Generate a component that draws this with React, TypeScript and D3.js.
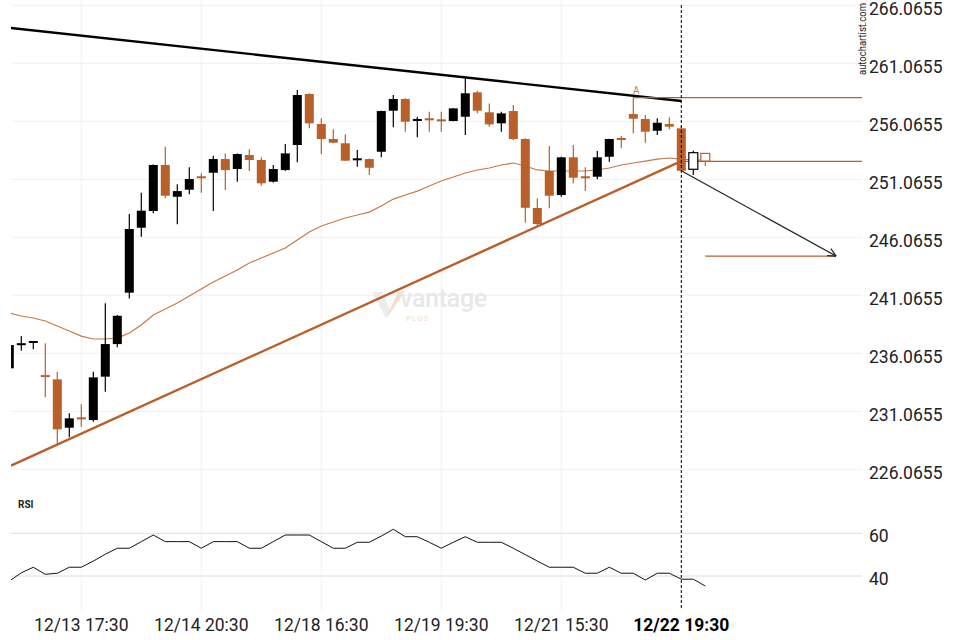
import React, { useEffect } from "react";
import { scaleLinear, line } from "d3";

// candle data, one entry per 30-min bar
const opens = [234.77, 236.8, 236.98, 234.15, 233.82, 229.65, 230.5, 230.31, 234.05, 236.86, 241.29, 246.89, 248.33, 252.3, 249.56, 250.17, 251.27, 251.63, 252.81, 251.95, 253.16, 252.73, 250.86, 251.86, 254.02, 258.42, 255.83, 254.54, 254.17, 252.76, 252.81, 253.44, 256.98, 257.99, 256.15, 256.27, 256.18, 256.09, 256.46, 258.56, 256.84, 255.89, 256.95, 254.54, 248.59, 251.78, 249.71, 252.96, 251.27, 251.29, 253.01, 254.57, 256.69, 256.26, 255.25, 255.83, 255.46, 251.93, 253.3];
const highs = [236.9, 237.55, 237.12, 236.93, 234.48, 230.89, 231.67, 234.48, 240.37, 239.36, 248.07, 249.91, 252.35, 253.87, 250.63, 252.1, 251.58, 253.1, 253.3, 253.3, 253.65, 252.96, 252.3, 254.11, 258.76, 258.48, 256.32, 255.37, 254.94, 253.59, 252.85, 256.98, 258.33, 258.05, 256.46, 256.89, 256.89, 257.2, 259.77, 258.7, 257.61, 256.89, 257.47, 254.6, 249.43, 253.93, 253.0, 254.02, 252.1, 253.5, 254.56, 254.8, 258.11, 256.61, 256.32, 256.41, 255.66, 253.53, 253.32];
const lows = [234.6, 236.29, 236.41, 232.27, 228.24, 228.82, 229.74, 230.17, 232.75, 236.58, 240.8, 246.11, 248.13, 249.43, 247.18, 249.77, 249.91, 248.33, 250.14, 250.86, 251.78, 250.51, 250.8, 251.8, 252.53, 255.46, 253.22, 254.2, 252.65, 252.15, 251.43, 252.96, 255.55, 255.17, 254.68, 255.17, 255.17, 256.07, 254.88, 256.75, 255.6, 255.17, 254.45, 247.32, 246.98, 248.56, 249.56, 250.72, 250.05, 251.07, 252.58, 253.74, 255.03, 254.22, 254.88, 255.37, 251.8, 251.43, 252.21];
const closes = [236.78, 236.9, 237.1, 234.05, 229.51, 230.46, 230.42, 233.99, 236.86, 239.3, 246.78, 248.36, 252.3, 249.65, 250.05, 251.09, 251.21, 252.81, 251.86, 253.24, 252.73, 250.72, 251.95, 253.3, 258.33, 255.89, 254.54, 254.22, 252.67, 252.82, 252.06, 256.95, 257.99, 256.03, 256.21, 256.21, 256.12, 257.18, 258.48, 256.98, 255.8, 256.75, 254.54, 248.61, 247.21, 249.65, 252.96, 251.2, 251.21, 252.96, 254.54, 254.51, 256.29, 255.17, 255.94, 255.6, 251.8, 253.36, 252.64];
// last two bars are projected, drawn hollow
const projectedFrom = 57;

const movingAvg = [239.54, 239.28, 239.11, 238.85, 238.42, 237.99, 237.55, 237.3, 237.3, 237.38, 237.81, 238.5, 239.36, 239.88, 240.4, 241.0, 241.61, 242.21, 242.73, 243.24, 243.85, 244.28, 244.71, 245.14, 245.83, 246.52, 247.04, 247.38, 247.73, 247.99, 248.24, 248.76, 249.36, 249.71, 250.05, 250.49, 250.92, 251.26, 251.61, 251.87, 252.04, 252.3, 252.47, 252.21, 251.87, 251.78, 251.78, 251.78, 251.78, 251.87, 252.04, 252.3, 252.47, 252.64, 252.81, 252.9, 252.81, 252.73, 252.73];

const rsi = [37.6, 41.5, 44.1, 40.8, 41.3, 44.1, 44.1, 47.0, 50.2, 53.0, 53.0, 56.1, 59.2, 56.1, 56.1, 56.1, 53.0, 56.1, 56.1, 56.1, 53.0, 53.0, 56.1, 59.2, 59.2, 59.2, 56.1, 53.0, 53.0, 55.8, 55.8, 58.7, 61.9, 58.4, 58.4, 55.8, 53.0, 55.8, 58.4, 55.8, 55.8, 55.8, 53.0, 50.0, 47.0, 44.1, 44.1, 44.1, 41.3, 41.3, 44.1, 41.3, 41.3, 38.1, 41.3, 41.3, 38.5, 38.5, 35.3];

const priceTicks = [266.0655, 261.0655, 256.0655, 251.0655, 246.0655, 241.0655, 236.0655, 231.0655, 226.0655];
const rsiTicks = [60, 40];
const timeTickIdx = [6, 16, 26, 36, 46, 56];
const timeTickLabels = ["12/13 17:30", "12/14 20:30", "12/18 16:30", "12/19 19:30", "12/21 15:30", "12/22 19:30"];
const currentIdx = 56;

// pattern lines: [index, price]
const resistance: [number, number][] = [[0.14, 264.11], [56, 257.82]];
const support: [number, number][] = [[0.14, 226.38], [56, 252.64]];
const levelA = { from: 52, price: 258.11 };
const breakLevel = { from: 56, price: 252.61 };
const target = { from: 58, to: 68.9, price: 244.45 };
const forecast: [number, number][] = [[56, 251.8], [68.9, 244.45]];

const W = 960;
const H = 640;
const LEFT = 11;
const RIGHT = 862;
const BLACK = "#000";
const ORANGE = "#b95f2a";
const FONT = "Roboto, sans-serif";

export default function App() {
  useEffect(() => {
    document.body.style.margin = "0";
  }, []);

  const x = scaleLinear().domain([0, 58]).range([9.3, 705.3]);
  const y = scaleLinear().domain([226.0655, 266.0655]).range([469.3, 5.3]);
  const yr = scaleLinear().domain([40, 60]).range([576, 533.3]);

  const pl = line<[number, number]>()
    .x((d) => x(d[0]))
    .y((d) => y(d[1]));
  const maPath = line<number>()
    .x((_, i) => x(i))
    .y((d) => y(d))(movingAvg) || "";
  const rsiPath = line<number>()
    .x((_, i) => x(i))
    .y((d) => yr(d))(rsi) || "";

  const bw = 9;

  // arrowhead at forecast end
  const ax1 = x(forecast[0][0]), ay1 = y(forecast[0][1]);
  const ax2 = x(forecast[1][0]), ay2 = y(forecast[1][1]);
  const ang = Math.atan2(ay2 - ay1, ax2 - ax1);
  const head = [ang + Math.PI - 0.45, ang + Math.PI + 0.45].map((a) => [
    ax2 + 9 * Math.cos(a),
    ay2 + 9 * Math.sin(a),
  ]);

  return (
    <svg width={W} height={H} style={{ display: "block", background: "#fff" }} fontFamily={FONT}>
      <defs>
        <clipPath id="plot">
          <rect x={LEFT} y={0} width={RIGHT - LEFT} height={480} />
        </clipPath>
        <clipPath id="rsiplot">
          <rect x={LEFT} y={515} width={RIGHT - LEFT} height={95} />
        </clipPath>
      </defs>

      {/* vertical grid */}
      {timeTickIdx.map((t) => (
        <line key={t} x1={x(t)} x2={x(t)} y1={0} y2={610} stroke="#f0f0f0" strokeWidth={1} />
      ))}

      {/* price grid + labels */}
      {priceTicks.map((p) => (
        <g key={p}>
          <line x1={LEFT} x2={RIGHT} y1={y(p)} y2={y(p)} stroke="#f0f0f0" strokeWidth={1} />
          <text x={869} y={y(p) + 9.5} fontSize={17.5} fill="#222">
            {p.toFixed(4)}
          </text>
        </g>
      ))}

      {/* watermark */}
      <g>
        <path d="M372,292 L382,292 L391,312 L386,318 Z" fill="#ececec" />
        <path d="M386,318 L398,292 L404,292 L391,312 Z" fill="#f6dccb" />
        <text x={400} y={307} fontSize={25} fill="#e8e8e8" fontWeight={500} letterSpacing={-0.3}>
          vantage
        </text>
        <text x={406} y={321} fontSize={7.5} fill="#f4d9c8" fontStyle="italic" letterSpacing={1.5}>
          PLUS
        </text>
      </g>

      <text
        transform="translate(866,75) rotate(-90)"
        fontSize={10}
        fill="#222"
        textLength={72}
        lengthAdjust="spacingAndGlyphs"
      >
        autochartist.com
      </text>

      <g clipPath="url(#plot)">
        {/* moving average */}
        <path d={maPath} fill="none" stroke="#c47a48" strokeWidth={1.2} />

        {/* trend lines */}
        <path d={pl(resistance) || ""} fill="none" stroke={BLACK} strokeWidth={2.4} />
        <path d={pl(support) || ""} fill="none" stroke={ORANGE} strokeWidth={2.4} />

        {/* levels */}
        <line x1={x(levelA.from)} x2={RIGHT} y1={y(levelA.price)} y2={y(levelA.price)} stroke={ORANGE} strokeWidth={1.2} />
        <line x1={x(breakLevel.from)} x2={RIGHT} y1={y(breakLevel.price)} y2={y(breakLevel.price)} stroke={ORANGE} strokeWidth={1.2} />
        <line x1={x(target.from)} x2={x(target.to)} y1={y(target.price)} y2={y(target.price)} stroke={ORANGE} strokeWidth={1.2} />

        {/* candles */}
        {opens.map((o, i) => {
          const c = closes[i];
          const up = c >= o;
          const col = up ? BLACK : ORANGE;
          const cx = x(i);
          const top = y(Math.max(o, c));
          const bot = y(Math.min(o, c));
          const h = Math.max(bot - top, 2);
          const hollow = i >= projectedFrom;
          return (
            <g key={i}>
              <line x1={cx} x2={cx} y1={y(highs[i])} y2={y(lows[i])} stroke={col} strokeWidth={1.2} />
              <rect
                x={cx - bw / 2}
                y={h === 2 ? (top + bot) / 2 - 1 : top}
                width={bw}
                height={h}
                fill={hollow ? "#fff" : col}
                stroke={hollow ? col : "none"}
                strokeWidth={hollow ? 1.2 : 0}
              />
            </g>
          );
        })}

        {/* forecast arrow */}
        <line x1={ax1} y1={ay1} x2={ax2} y2={ay2} stroke="#222" strokeWidth={1.2} />
        {head.map((p, k) => (
          <line key={k} x1={ax2} y1={ay2} x2={p[0]} y2={p[1]} stroke="#222" strokeWidth={1.2} />
        ))}

        <text x={x(levelA.from) + 3} y={y(levelA.price) - 4} fontSize={10} fill="#c47a48" textAnchor="middle">
          A
        </text>
      </g>

      {/* RSI pane */}
      <text x={18} y={508} fontSize={10} fontWeight={700} fill="#222">
        RSI
      </text>
      {rsiTicks.map((r) => (
        <g key={r}>
          <line x1={LEFT} x2={RIGHT} y1={yr(r)} y2={yr(r)} stroke="#dedede" strokeWidth={1} />
          <text x={869} y={yr(r) + 9} fontSize={17.5} fill="#222">
            {r}
          </text>
        </g>
      ))}
      <g clipPath="url(#rsiplot)">
        <path d={rsiPath} fill="none" stroke="#111" strokeWidth={1} />
      </g>

      {/* current bar marker */}
      <line x1={x(currentIdx)} x2={x(currentIdx)} y1={5} y2={610} stroke="#000" strokeWidth={1} strokeDasharray="3,2" />

      {/* time labels */}
      {timeTickIdx.map((t, k) => (
        <text
          key={t}
          x={x(t)}
          y={631}
          fontSize={17.5}
          textAnchor="middle"
          fill={t === currentIdx ? "#000" : "#222"}
          fontWeight={t === currentIdx ? 700 : 400}
        >
          {timeTickLabels[k]}
        </text>
      ))}
    </svg>
  );
}
